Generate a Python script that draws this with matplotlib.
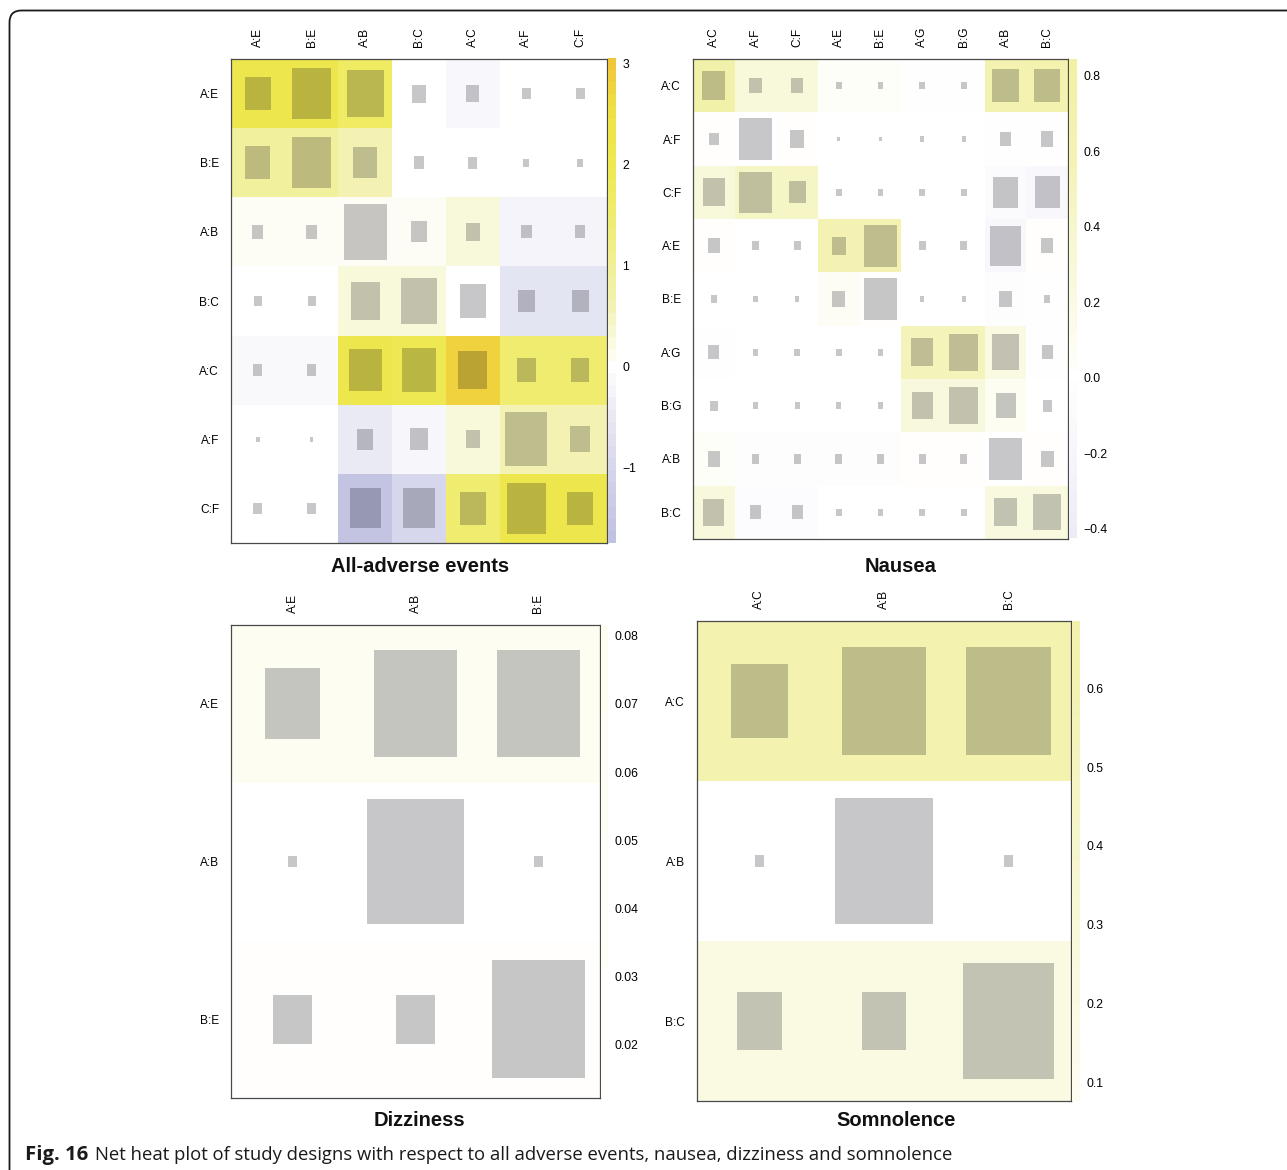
import numpy as np
import matplotlib
matplotlib.use("Agg")
import matplotlib.pyplot as plt
from matplotlib.colors import LinearSegmentedColormap, Normalize
from matplotlib.patches import Rectangle, FancyBboxPatch

# ---------------------------------------------------------------- data
ae_designs = ["A:E", "B:E", "A:B", "B:C", "A:C", "A:F", "C:F"]
ae_heat = [
    [2.2, 2.2, 1.7, 0.0, -0.15, 0.0, 0.0],
    [0.9, 0.9, 0.6, 0.0, 0.0, 0.0, 0.0],
    [0.06, 0.06, 0.06, 0.06, 0.3, -0.25, -0.25],
    [0.0, 0.0, 0.3, 0.3, 0.0, -0.6, -0.6],
    [-0.12, -0.12, 2.2, 2.0, 2.8, 1.5, 1.5],
    [0.0, 0.0, -0.45, -0.18, 0.3, 0.6, 0.6],
    [0.0, 0.0, -1.6, -1.0, 1.5, 2.2, 2.2],
]
ae_size = [
    [0.48, 0.73, 0.69, 0.26, 0.24, 0.17, 0.17],
    [0.47, 0.73, 0.45, 0.19, 0.17, 0.11, 0.11],
    [0.20, 0.20, 0.80, 0.30, 0.26, 0.19, 0.19],
    [0.15, 0.15, 0.54, 0.67, 0.48, 0.32, 0.32],
    [0.17, 0.17, 0.61, 0.63, 0.54, 0.34, 0.34],
    [0.07, 0.07, 0.30, 0.32, 0.26, 0.78, 0.37],
    [0.17, 0.17, 0.58, 0.58, 0.48, 0.73, 0.48],
]
ae_range = (-1.75, 3.05)
ae_ticks = [3, 2, 1, 0, -1]

nau_designs = ["A:C", "A:F", "C:F", "A:E", "B:E", "A:G", "B:G", "A:B", "B:C"]
nau_heat = [
    [0.72, 0.3, 0.3, 0.04, 0.04, -0.02, -0.02, 0.62, 0.65],
    [0.03, 0.0, 0.03, 0.0, 0.0, 0.0, 0.0, -0.02, -0.02],
    [0.3, 0.45, 0.45, 0.0, 0.0, 0.0, 0.0, -0.1, -0.15],
    [0.03, 0.0, 0.0, 0.6, 0.6, 0.0, 0.0, -0.15, 0.03],
    [0.0, 0.0, 0.0, 0.05, 0.02, 0.0, 0.0, -0.03, -0.02],
    [-0.02, 0.0, 0.0, 0.0, 0.0, 0.55, 0.55, 0.22, -0.02],
    [0.0, 0.0, 0.0, 0.0, 0.0, 0.28, 0.28, 0.08, 0.0],
    [0.04, -0.03, -0.03, -0.03, -0.03, 0.03, 0.03, 0.0, 0.03],
    [0.28, -0.05, -0.05, 0.0, 0.0, 0.0, 0.0, 0.25, 0.25],
]
nau_size = [
    [0.55, 0.29, 0.29, 0.14, 0.14, 0.14, 0.14, 0.63, 0.63],
    [0.24, 0.79, 0.34, 0.07, 0.07, 0.10, 0.10, 0.26, 0.29],
    [0.53, 0.77, 0.41, 0.14, 0.14, 0.14, 0.14, 0.58, 0.60],
    [0.29, 0.17, 0.17, 0.34, 0.79, 0.17, 0.17, 0.75, 0.29],
    [0.14, 0.10, 0.10, 0.31, 0.79, 0.10, 0.10, 0.31, 0.14],
    [0.26, 0.14, 0.14, 0.14, 0.14, 0.53, 0.70, 0.67, 0.26],
    [0.19, 0.12, 0.12, 0.12, 0.12, 0.50, 0.70, 0.48, 0.22],
    [0.29, 0.17, 0.17, 0.17, 0.17, 0.17, 0.17, 0.79, 0.31],
    [0.50, 0.26, 0.26, 0.14, 0.14, 0.14, 0.14, 0.53, 0.67],
]
nau_range = (-0.424, 0.845)
nau_ticks = [0.8, 0.6, 0.4, 0.2, 0.0, -0.2, -0.4]

diz_designs = ["A:E", "A:B", "B:E"]
diz_heat = [
    [0.075, 0.075, 0.075],
    [0.0, 0.0, 0.0],
    [0.015, 0.015, 0.015],
]
diz_size = [
    [0.45, 0.68, 0.68],
    [0.07, 0.79, 0.07],
    [0.31, 0.31, 0.75],
]
diz_range = (0.0121, 0.0816)
diz_ticks = [0.08, 0.07, 0.06, 0.05, 0.04, 0.03, 0.02]

som_designs = ["A:C", "A:B", "B:C"]
som_heat = [
    [0.65, 0.65, 0.65],
    [0.0, 0.0, 0.0],
    [0.2, 0.2, 0.2],
]
som_size = [
    [0.46, 0.68, 0.68],
    [0.07, 0.79, 0.07],
    [0.36, 0.36, 0.73],
]
som_range = (0.077, 0.685)
som_ticks = [0.6, 0.5, 0.4, 0.3, 0.2, 0.1]

titles = ["All-adverse events", "Nausea", "Dizziness", "Somnolence"]
caption_bold = "Fig. 16"
caption_rest = ("Net heat plot of study designs with respect to all adverse events, "
                "nausea, dizziness and somnolence")

# ---------------------------------------------------------------- colours
stops = [(-1.75, (190, 192, 224)), (-1.0, (214, 215, 236)), (-0.5, (232, 232, 244)),
         (0.0, (255, 255, 255)), (0.1, (253, 252, 238)), (0.3, (248, 248, 218)),
         (0.6, (243, 242, 178)), (1.0, (241, 239, 150)), (1.5, (239, 236, 112)),
         (2.0, (238, 233, 82)), (2.5, (239, 226, 70)), (3.05, (240, 196, 55))]
vmin, vmax = stops[0][0], stops[-1][0]
heat_cmap = LinearSegmentedColormap.from_list(
    "netheat", [((v - vmin) / (vmax - vmin), tuple(c / 255 for c in rgb)) for v, rgb in stops])
heat_norm = Normalize(vmin, vmax)

W, H = 1287, 1170
DPI = 100
plt.rcParams["font.family"] = ["Liberation Sans", "DejaVu Sans"]
fig = plt.figure(figsize=(W / DPI, H / DPI), dpi=DPI)


def px_axes(x0, y0, x1, y1):
    return fig.add_axes([x0 / W, 1 - y1 / H, (x1 - x0) / W, (y1 - y0) / H])


def heat_panel(box, designs, heat, size, cbox, crange, ticks, fmt):
    ax = px_axes(*box)
    n = len(designs)
    heat = np.asarray(heat)
    size = np.asarray(size)
    ax.pcolormesh(np.arange(n + 1), np.arange(n + 1), heat, cmap=heat_cmap, norm=heat_norm,
                  shading="flat")
    for i in range(n):
        for j in range(n):
            s = size[i, j]
            ax.add_patch(Rectangle((j + 0.5 - s / 2, i + 0.5 - s / 2), s, s,
                                   facecolor="#05050f", alpha=0.225, linewidth=0))
    ax.set_xlim(0, n)
    ax.set_ylim(n, 0)
    ax.xaxis.tick_top()
    ax.set_xticks(np.arange(n) + 0.5)
    ax.set_xticklabels(designs, rotation=90, fontsize=8.6)
    ax.set_yticks(np.arange(n) + 0.5)
    ax.set_yticklabels(designs, fontsize=8.6)
    ax.tick_params(length=0, pad=8.5)
    for sp in ax.spines.values():
        sp.set_color("#4a4a4a")
        sp.set_linewidth(0.9)

    # colour key strip
    cax = px_axes(*cbox)
    edges = np.linspace(crange[0], crange[1], 41)
    mids = (edges[:-1] + edges[1:]) / 2
    cax.pcolormesh([0, 1], edges, mids[:, None], cmap=heat_cmap, norm=heat_norm, shading="flat")
    cax.set_ylim(*crange)
    cax.set_xlim(0, 1)
    cax.set_xticks([])
    cax.yaxis.tick_right()
    cax.set_yticks(ticks)
    cax.set_yticklabels([fmt(t) for t in ticks], fontsize=8.8)
    cax.tick_params(length=0, pad=4.5)
    for sp in cax.spines.values():
        sp.set_visible(False)
    return ax


heat_panel((231, 59, 607, 543), ae_designs, ae_heat, ae_size, (608, 58, 616, 543),
           ae_range, ae_ticks, lambda t: f"{t:d}".replace("-", "\u2212"))
heat_panel((693, 59, 1068, 539), nau_designs, nau_heat, nau_size, (1069, 59, 1077, 538),
           nau_range, nau_ticks, lambda t: f"{t:.1f}".replace("-", "\u2212"))
heat_panel((231, 625, 600, 1098), diz_designs, diz_heat, diz_size, (601, 625, 608, 1098),
           diz_range, diz_ticks, lambda t: f"{t:.2f}")
heat_panel((697, 621, 1071, 1101), som_designs, som_heat, som_size, (1072, 621, 1080, 1101),
           som_range, som_ticks, lambda t: f"{t:.1f}")

# ---------------------------------------------------------------- overlay: frame, titles, caption
ov = fig.add_axes([0, 0, 1, 1], zorder=-1)
ov.set_xlim(0, W)
ov.set_ylim(H, 0)
ov.axis("off")
ov.add_patch(FancyBboxPatch((9.5, 10.5), 1400, 1300, boxstyle="round,pad=0,rounding_size=12",
                            facecolor="none", edgecolor="#1a1a1a", linewidth=1.3))

for (x, y), t in zip([(420, 566), (901, 566), (419, 1121), (896, 1121)], titles):
    ov.text(x, y, t, ha="center", va="center", fontsize=14.5, fontweight="bold", color="#111111")

cap_font = ["Open Sans", "DejaVu Sans"]
tb = ov.text(25, 1160, caption_bold, ha="left", va="baseline", fontsize=14.6,
             fontweight="bold", family=cap_font, color="#1a1a1a")
renderer = fig.canvas.get_renderer()
bw = tb.get_window_extent(renderer).width
ov.text(25 + bw + 7, 1160, caption_rest, ha="left", va="baseline", fontsize=13.35,
        family=cap_font, color="#1a1a1a")

fig.savefig("out.png", dpi=DPI, facecolor="white")
